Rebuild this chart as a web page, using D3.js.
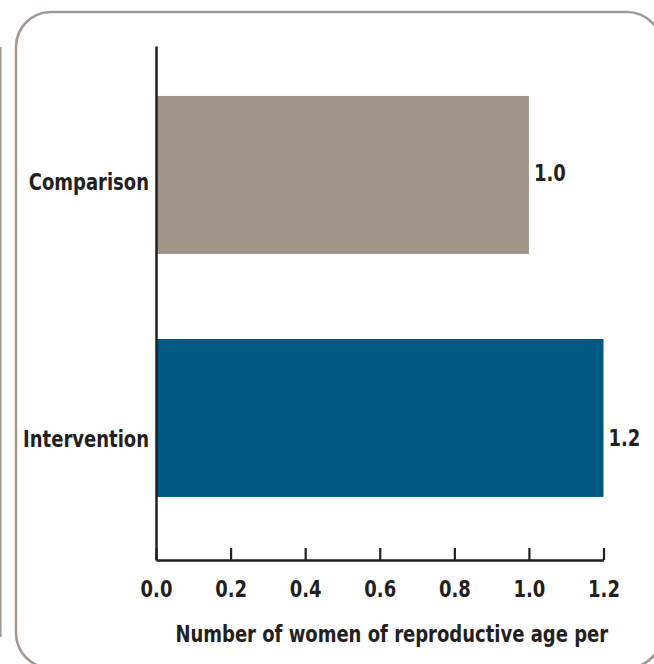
<!DOCTYPE html>
<html>
<head>
<meta charset="utf-8">
<script src="https://cdn.jsdelivr.net/npm/d3@7"></script>
<style>
  body { margin: 0; background: #fff; }
  text { font-family: "DejaVu Sans Condensed", "DejaVu Sans", sans-serif; font-weight: bold; fill: #231f20; }
</style>
</head>
<body>
<script>
const categories = ["Comparison", "Intervention"];
const values = [1.0, 1.2];
const barColors = ["#a1958a", "#005983"];
const tickValues = [0, 0.2, 0.4, 0.6, 0.8, 1.0, 1.2];
const axisTitle = "Number of women of reproductive age per";

const width = 654, height = 664;
const frameColor = "#a39890";
const ink = "#231f20";
const fontSize = 23;
const squeeze = 0.87; // narrow the glyphs, the source uses a condensed face

const svg = d3.select("body").append("svg")
  .attr("width", width).attr("height", height);

// panel frame + edge of neighbouring panel
svg.append("rect")
  .attr("x", 16).attr("y", 12)
  .attr("width", 646).attr("height", 656)
  .attr("rx", 35)
  .attr("fill", "none")
  .attr("stroke", frameColor)
  .attr("stroke-width", 2.5);
svg.append("line")
  .attr("x1", 0.8).attr("x2", 0.8)
  .attr("y1", 47).attr("y2", 637)
  .attr("stroke", frameColor)
  .attr("stroke-width", 1.6);

const x = d3.scaleLinear().domain([0, 1.2]).range([156, 603.5]);
const y = d3.scaleBand()
  .domain(categories)
  .range([46, 560])
  .paddingInner(0.35)
  .paddingOuter(0.2325)
  .align(0.442);

const rows = categories.map((c, i) => ({cat: c, value: values[i], color: barColors[i]}));

svg.selectAll("rect.bar").data(rows)
  .join("rect")
  .attr("class", "bar")
  .attr("x", x(0))
  .attr("y", d => y(d.cat))
  .attr("width", d => x(d.value) - x(0))
  .attr("height", y.bandwidth())
  .attr("fill", d => d.color);

// y axis: bare line
const yAxisG = svg.append("g")
  .attr("transform", `translate(${x(0)},0)`)
  .call(d3.axisLeft(y).tickSize(0).tickFormat(""));
yAxisG.select(".domain").attr("stroke", ink).attr("stroke-width", 2.5);

// x axis with inward ticks
const xAxisG = svg.append("g")
  .attr("transform", `translate(0,${y.range()[1]})`)
  .call(d3.axisBottom(x)
    .tickValues(tickValues)
    .tickFormat(d3.format(".1f"))
    .tickSizeInner(-12)
    .tickSizeOuter(0)
    .tickPadding(21));
xAxisG.select(".domain").attr("stroke", ink).attr("stroke-width", 2.5);
xAxisG.selectAll(".tick line").attr("stroke", ink).attr("stroke-width", 2.2);
xAxisG.selectAll(".tick text")
  .attr("font-size", fontSize)
  .attr("fill", ink)
  .attr("transform", `scale(${squeeze},1)`);
xAxisG.attr("font-family", null).attr("font-size", null);

const at = (px, py) => `translate(${px},${py}) scale(${squeeze},1)`;

// category labels
svg.selectAll("text.cat").data(rows)
  .join("text")
  .attr("class", "cat")
  .attr("transform", d => at(x(0) - 7, y(d.cat) + y.bandwidth() / 2 + (d.cat === "Intervention" ? 29 : 15)))
  .attr("text-anchor", "end")
  .attr("font-size", fontSize)
  .text(d => d.cat);

// value labels
svg.selectAll("text.val").data(rows)
  .join("text")
  .attr("class", "val")
  .attr("transform", d => at(x(d.value) + 5, y(d.cat) + y.bandwidth() / 2 + (d.cat === "Intervention" ? 28 : 6)))
  .attr("font-size", fontSize)
  .text(d => d3.format(".1f")(d.value));

// axis title
svg.append("text")
  .attr("transform", at((x.range()[0] + x.range()[1]) / 2 + 12, 642))
  .attr("text-anchor", "middle")
  .attr("font-size", fontSize)
  .text(axisTitle);
</script>
</body>
</html>
